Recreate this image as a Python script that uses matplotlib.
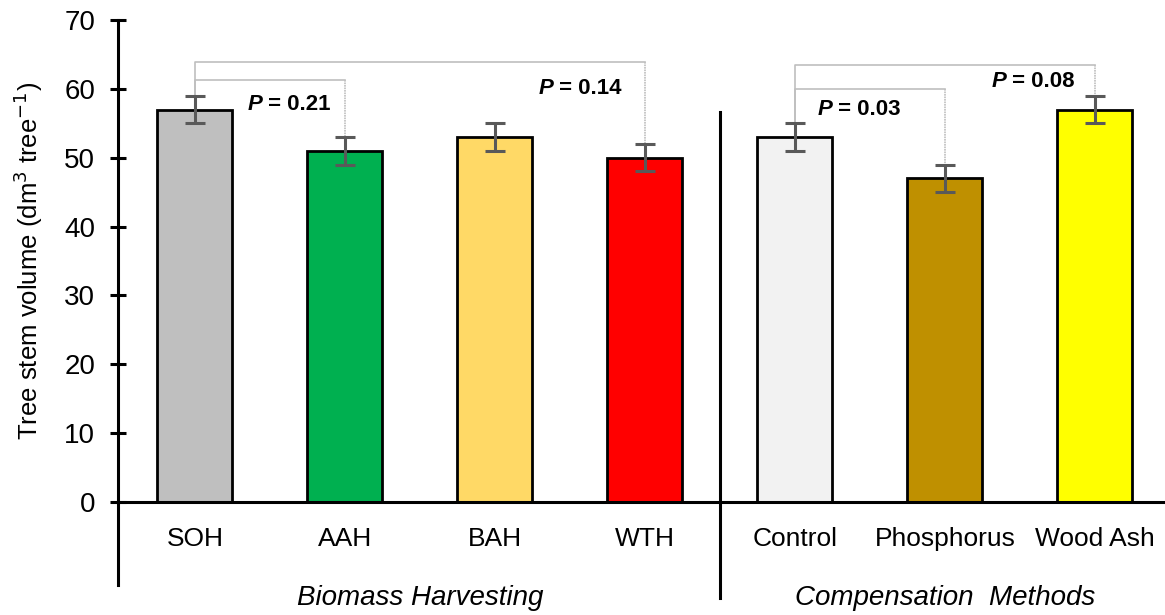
import matplotlib.pyplot as plt
import matplotlib.transforms as mtransforms

plt.rcParams['font.family'] = ['Liberation Sans', 'DejaVu Sans']

# Data
categories = ["SOH", "AAH", "BAH", "WTH", "Control", "Phosphorus", "Wood Ash"]
volumes = [57, 51, 53, 50, 53, 47, 57]
errors = [2, 2, 2, 2, 2, 2, 2]
bar_colors = ["#BFBFBF", "#00B050", "#FFD966", "#FF0000", "#F2F2F2", "#BF9000", "#FFFF00"]
group_names = ["Biomass Harvesting", "Compensation  Methods"]

# comparisons: (from index, to index, bracket height, p label, label x, label y)
comparisons = [
    (0, 1, 61.3, "0.21", 0.35, 57.8),
    (0, 3, 63.9, "0.14", 2.29, 60.0),
    (4, 5, 60.0, "0.03", 4.15, 57.0),
    (4, 6, 63.5, "0.08", 5.31, 61.0),
]

fig = plt.figure(figsize=(11.65, 6.15), dpi=100)
ax = fig.add_axes([118 / 1165, 113 / 615, 1 - 118 / 1165, 482 / 615])

x = list(range(len(categories)))
ax.bar(x, volumes, width=0.5, color=bar_colors, edgecolor="black", linewidth=2, zorder=2)
ax.errorbar(x, volumes, yerr=errors, fmt="none", ecolor="#595959",
            elinewidth=2.2, capsize=7, capthick=2.2, zorder=3)

# significance brackets
for i, j, h, p, tx, ty in comparisons:
    top_i = volumes[i] + errors[i]
    top_j = volumes[j] + errors[j]
    ax.plot([i, i, j], [top_i, h, h], color="#BFBFBF", lw=1.2, zorder=1)
    ax.plot([j, j], [h, top_j], color="#BFBFBF", lw=1.2, ls=(0, (1, 0.5)), zorder=1)
    t = ax.text(tx, ty, "P", fontsize=16, fontweight="bold", style="italic",
                va="center", ha="left")
    ax.annotate(" = " + p, xy=(1, 0.5), xycoords=t, fontsize=16,
                fontweight="bold", va="center", ha="left")

ax.set_xlim(-0.513, 6.467)
ax.set_ylim(0, 70)
ax.set_yticks(range(0, 71, 10))
ax.set_xticks(x)
ax.set_xticklabels(categories)
ax.tick_params(axis="x", length=0, pad=18, labelsize=19)
ax.tick_params(axis="y", direction="inout", length=11, width=2.2, pad=11, labelsize=20)

for s in ["top", "right"]:
    ax.spines[s].set_visible(False)
ax.spines["left"].set_linewidth(2.2)
ax.spines["bottom"].set_linewidth(2.2)

ax.set_ylabel("Tree stem volume (dm$^3$ tree$^{-1}$)", fontsize=18.5, labelpad=14)

# axis extension below and group separator
trans = mtransforms.blended_transform_factory(ax.transAxes, ax.transData)
ax.plot([0, 0], [0, -12], color="black", lw=2.2, transform=trans, clip_on=False)
ax.plot([3.5, 3.5], [-14, 56.6], color="black", lw=2.2, clip_on=False)

ax.text(1.5, -13.9, group_names[0], fontsize=20, style="italic", ha="center", va="center")
ax.text(5.0, -13.9, group_names[1], fontsize=20, style="italic", ha="center", va="center")

plt.savefig("out.png", dpi=100)
